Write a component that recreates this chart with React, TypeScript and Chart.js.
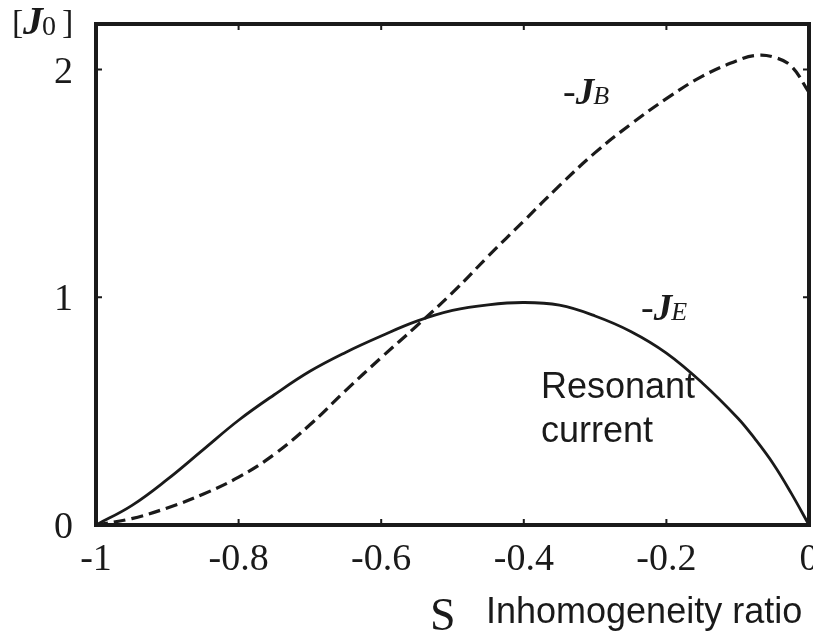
import React, { useEffect, useRef } from "react";
import { Chart, registerables } from "chart.js";

Chart.register(...registerables);

const sValues = [-1, -0.95, -0.9, -0.85, -0.8, -0.75, -0.7, -0.65, -0.6, -0.55, -0.5, -0.45, -0.4, -0.35, -0.3, -0.25, -0.2, -0.15, -0.1, -0.075, -0.05, -0.025, 0];
const jE = [0, 0.085, 0.2, 0.33, 0.46, 0.572, 0.675, 0.758, 0.83, 0.895, 0.942, 0.967, 0.977, 0.965, 0.918, 0.85, 0.755, 0.625, 0.47, 0.375, 0.268, 0.14, 0];
const jB = [0, 0.028, 0.075, 0.135, 0.21, 0.31, 0.44, 0.59, 0.735, 0.875, 1.02, 1.18, 1.335, 1.49, 1.635, 1.76, 1.872, 1.97, 2.04, 2.062, 2.055, 2.015, 1.9];
const xTicks = [-1, -0.8, -0.6, -0.4, -0.2, 0];
const xTickLabels = ["-1", "-0.8", "-0.6", "-0.4", "-0.2", "0"];
const yTicks = [0, 1, 2];
const yTickLabels = ["0", "1", "2"];

const SERIF = '"Liberation Serif", "Times New Roman", serif';
const SANS = '"Liberation Sans", Arial, sans-serif';

const framePlugin = {
  id: "framePlugin",
  afterDatasetsDraw(chart: any) {
    const { ctx, chartArea, scales } = chart;
    const { left, right, top, bottom } = chartArea;
    const xs = scales.x;
    const ys = scales.y;
    ctx.save();
    ctx.strokeStyle = "#1a1a1a";
    ctx.lineWidth = 4;
    ctx.strokeRect(left, top, right - left, bottom - top);
    ctx.lineWidth = 2;
    const tl = 6;
    xTicks.forEach((v) => {
      const px = xs.getPixelForValue(v);
      ctx.beginPath();
      ctx.moveTo(px, bottom);
      ctx.lineTo(px, bottom - tl);
      ctx.moveTo(px, top);
      ctx.lineTo(px, top + tl);
      ctx.stroke();
    });
    yTicks.forEach((v) => {
      const py = ys.getPixelForValue(v);
      ctx.beginPath();
      ctx.moveTo(left, py);
      ctx.lineTo(left + tl, py);
      ctx.moveTo(right, py);
      ctx.lineTo(right - tl, py);
      ctx.stroke();
    });
    ctx.fillStyle = "#1a1a1a";
    ctx.font = `38px ${SERIF}`;
    ctx.textAlign = "center";
    ctx.textBaseline = "alphabetic";
    xTicks.forEach((v, i) => {
      ctx.fillText(xTickLabels[i], xs.getPixelForValue(v), 570);
    });
    ctx.textAlign = "right";
    yTicks.forEach((v, i) => {
      ctx.fillText(yTickLabels[i], left - 23, ys.getPixelForValue(v) + 13);
    });

    // [J0]
    ctx.textAlign = "left";
    ctx.font = `34px ${SERIF}`;
    ctx.fillText("[", 12, 33);
    ctx.font = `italic bold 40px ${SERIF}`;
    ctx.fillText("J", 23, 34);
    ctx.font = `28px ${SERIF}`;
    ctx.fillText("0", 42, 35);
    ctx.font = `34px ${SERIF}`;
    ctx.fillText("]", 62, 33);

    const drawJ = (x0: number, base: number, sub: string) => {
      let xx = x0;
      ctx.font = `38px ${SERIF}`;
      ctx.fillText("-", xx, base);
      xx += ctx.measureText("-").width;
      ctx.font = `italic bold 37px ${SERIF}`;
      ctx.fillText("J", xx, base);
      xx += ctx.measureText("J").width - 1;
      ctx.font = `italic 26px ${SERIF}`;
      ctx.fillText(sub, xx, base);
    };
    drawJ(563, 104, "B");
    drawJ(641, 320, "E");

    ctx.font = `36px ${SANS}`;
    ctx.fillText("Resonant", 541, 398);
    ctx.fillText("current", 541, 442);

    ctx.font = `46px ${SERIF}`;
    ctx.fillText("S", 430, 630);
    ctx.font = `36px ${SANS}`;
    ctx.fillText("Inhomogeneity ratio", 486, 623);
    ctx.restore();
  },
};

export default function App() {
  const ref = useRef<HTMLCanvasElement | null>(null);
  useEffect(() => {
    if (!ref.current) return;
    const chart = new Chart(ref.current, {
      type: "line",
      data: {
        datasets: [
          {
            label: "-JE",
            data: sValues.map((s, i) => ({ x: s, y: jE[i] })),
            borderColor: "#1a1a1a",
            borderWidth: 2.8,
            pointRadius: 0,
            tension: 0.4,
            fill: false,
          },
          {
            label: "-JB",
            data: sValues.map((s, i) => ({ x: s, y: jB[i] })),
            borderColor: "#1a1a1a",
            borderWidth: 3.2,
            borderDash: [12, 6],
            pointRadius: 0,
            tension: 0.4,
            fill: false,
          },
        ],
      },
      options: {
        animation: false,
        responsive: false,
        maintainAspectRatio: false,
        devicePixelRatio: 1,
        layout: { padding: { left: 96, top: 24, right: 4, bottom: 106 } },
        plugins: { legend: { display: false }, tooltip: { enabled: false }, title: { display: false } },
        scales: {
          x: { type: "linear", min: -1, max: 0, display: false },
          y: { type: "linear", min: 0, max: 2.2, display: false },
        },
      },
      plugins: [framePlugin],
    } as any);
    return () => chart.destroy();
  }, []);
  return (
    <div style={{ position: "absolute", left: 0, top: 0, width: 813, height: 631, background: "#fff" }}>
      <canvas ref={ref} width={813} height={631} style={{ width: 813, height: 631, display: "block" }} />
    </div>
  );
}
